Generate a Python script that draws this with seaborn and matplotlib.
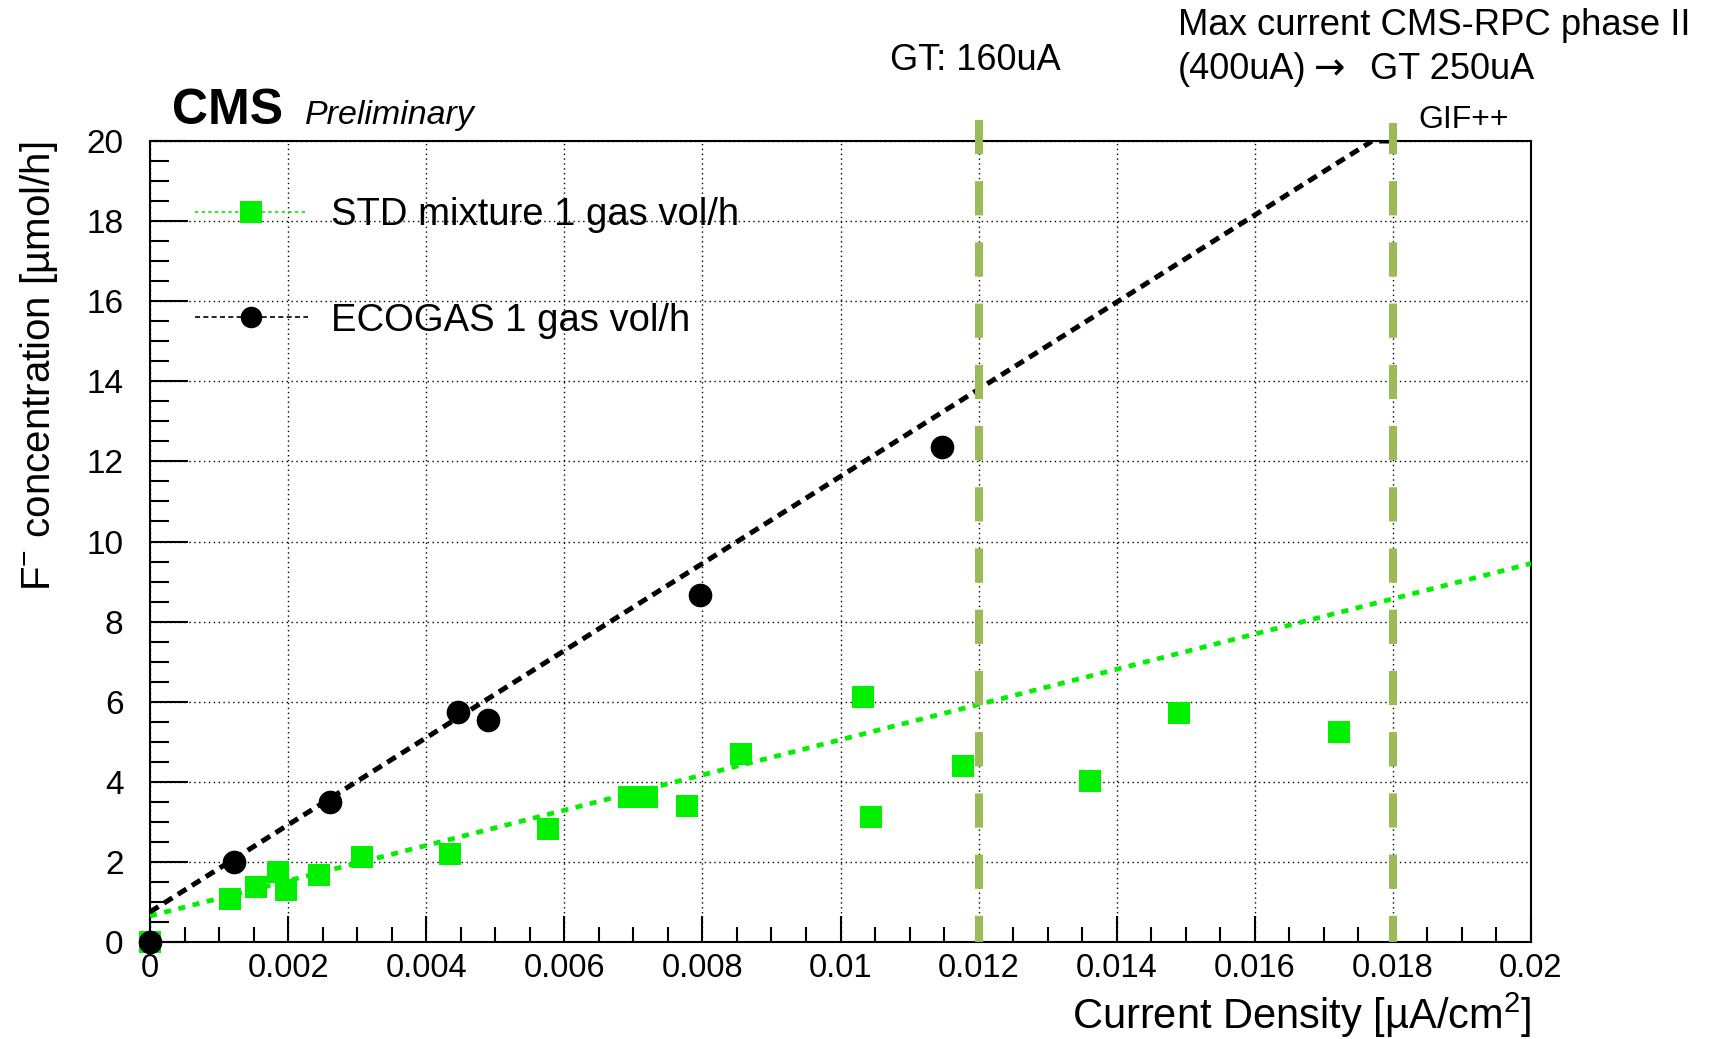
import numpy as np
import pandas as pd
import seaborn as sns
import matplotlib.pyplot as plt
from matplotlib.lines import Line2D
from matplotlib.ticker import MultipleLocator, FixedLocator, FixedFormatter

# data
std_x = [0.0, 0.00116, 0.00153, 0.00186, 0.00197, 0.00245, 0.00307, 0.00434, 0.00577,
         0.00694, 0.0072, 0.00778, 0.00856, 0.01033, 0.01044, 0.01177, 0.01361, 0.0149, 0.01722]
std_y = [0.0, 1.07, 1.37, 1.75, 1.31, 1.67, 2.13, 2.19, 2.81,
         3.63, 3.63, 3.39, 4.70, 6.12, 3.11, 4.40, 4.02, 5.71, 5.25]
eco_x = [0.0, 0.00122, 0.00261, 0.00446, 0.00489, 0.00797, 0.01147]
eco_y = [0.0, 1.99, 3.50, 5.74, 5.55, 8.66, 12.35]

# fit lines (end points)
std_fit_x = [0.0, 0.02]
std_fit_y = [0.65, 9.45]
eco_fit_x = [0.0, 0.0177, 0.018]
eco_fit_y = [0.75, 20.0, 20.0]

# reference lines (GT 160uA, GIF++)
ref_x = [0.012, 0.018]
ref_top = [1.06, 1.0225]  # how far above the frame they reach (axes fraction)

xticks = [0, 0.002, 0.004, 0.006, 0.008, 0.01, 0.012, 0.014, 0.016, 0.018, 0.02]
xtick_labels = ["0", "0.002", "0.004", "0.006", "0.008", "0.01", "0.012", "0.014", "0.016", "0.018", "0.02"]
yticks = [0, 2, 4, 6, 8, 10, 12, 14, 16, 18, 20]

std_label = "STD mixture 1 gas vol/h"
eco_label = "ECOGAS 1 gas vol/h"

sns.set_theme(style="white")
plt.rcParams['font.family'] = ['Liberation Sans', 'DejaVu Sans']
plt.rcParams['mathtext.fontset'] = 'custom'
plt.rcParams['mathtext.rm'] = 'Liberation Sans'
plt.rcParams['mathtext.it'] = 'Liberation Sans:italic'
plt.rcParams['text.color'] = 'black'
plt.rcParams['axes.labelcolor'] = 'black'

W, H = 1719, 1039
fig = plt.figure(figsize=(W / 100, H / 100), dpi=100)
ax = fig.add_axes([150 / W, 97 / H, 1381 / W, 801 / H])

GREEN = '#00f000'
OLIVE = '#9bbb59'

std_df = pd.DataFrame({'x': std_x, 'y': std_y})
eco_df = pd.DataFrame({'x': eco_x, 'y': eco_y})

# fit lines
sns.lineplot(x=std_fit_x, y=std_fit_y, color=GREEN, linewidth=3.4, linestyle=(0, (1.5, 1.6)),
             estimator=None, sort=False, ax=ax, zorder=3)
sns.lineplot(x=eco_fit_x, y=eco_fit_y, color='black', linewidth=3.6, linestyle=(0, (2.0, 1.3)),
             estimator=None, sort=False, ax=ax, zorder=3)

# points
sns.scatterplot(data=std_df, x='x', y='y', marker='s', s=250, color=GREEN, linewidth=0,
                ax=ax, zorder=4, clip_on=False)
sns.scatterplot(data=eco_df, x='x', y='y', marker='o', s=290, color='black', linewidth=0,
                ax=ax, zorder=5, clip_on=False)

# vertical reference lines
for xv, top in zip(ref_x, ref_top):
    ax.axvline(xv, ymin=0, ymax=top, color=OLIVE, linewidth=5.8,
               linestyle=(1.0, (4.25, 3.35)), clip_on=False, zorder=10)

ax.set_xlim(0, 0.02)
ax.set_ylim(0, 20)

ax.xaxis.set_major_locator(FixedLocator(xticks))
ax.xaxis.set_major_formatter(FixedFormatter(xtick_labels))
ax.xaxis.set_minor_locator(MultipleLocator(0.0005))
ax.yaxis.set_major_locator(FixedLocator(yticks))
ax.yaxis.set_minor_locator(MultipleLocator(0.5))

ax.tick_params(axis='x', which='major', direction='in', length=19, width=1.5,
               labelsize=23.5, pad=8, colors='black', bottom=True, top=False)
ax.tick_params(axis='x', which='minor', direction='in', length=10.5, width=1.5,
               bottom=True, top=False, colors='black')
ax.tick_params(axis='y', which='major', direction='in', length=27, width=1.5,
               labelsize=24, pad=19, colors='black', left=True, right=False)
ax.tick_params(axis='y', which='minor', direction='in', length=13.5, width=1.5,
               left=True, right=False, colors='black')

for sp in ax.spines.values():
    sp.set_linewidth(1.5)
    sp.set_color('black')

ax.grid(True, which='major', color='black', linewidth=1.0, linestyle=(0, (1, 2.5)))
ax.set_axisbelow(True)

ax.set_xlabel(r"Current Density [µA/cm$^{2}$]", fontsize=30, loc='right', labelpad=4.5)
ax.set_ylabel(r"F$^{-}$ concentration [µmol/h]", fontsize=29, loc='top', labelpad=19)

# legend
handles = [
    Line2D([], [], color=GREEN, linewidth=1.2, linestyle=(0, (2, 2)), marker='s',
           markersize=15.5, markeredgewidth=0),
    Line2D([], [], color='black', linewidth=1.2, linestyle=(0, (3, 2)), marker='o',
           markersize=15.5, markeredgewidth=0),
]
ax.legend(handles, [std_label, eco_label], loc='upper left', bbox_to_anchor=(0.0326, 0.93),
          frameon=False, fontsize=27.5, handlelength=2.95, handletextpad=0.62,
          labelspacing=1.82, borderpad=0, borderaxespad=0)

# header texts
fig.text(172 / W, 1 - 124 / H, "CMS", fontsize=36, fontweight='bold', va='baseline')
fig.text(305 / W, 1 - 124 / H, "Preliminary", fontsize=24.5, fontstyle='italic', va='baseline')
fig.text(975 / W, 1 - 70 / H, "GT: 160uA", fontsize=26, ha='center', va='baseline')
fig.text(1178 / W, 1 - 35 / H, "Max current CMS-RPC phase II", fontsize=26.3, va='baseline')
fig.text(1178 / W, 1 - 79 / H, "(400uA)", fontsize=26, va='baseline')
fig.text(1314 / W, 1 - 79 / H, "→", fontsize=27, va='baseline', family='DejaVu Sans')
fig.text(1370 / W, 1 - 79 / H, "GT 250uA", fontsize=26, va='baseline')
fig.text(1418 / W, 1 - 128 / H, "GIF++", fontsize=23, va='baseline')

fig.savefig("out.png", dpi=100)
